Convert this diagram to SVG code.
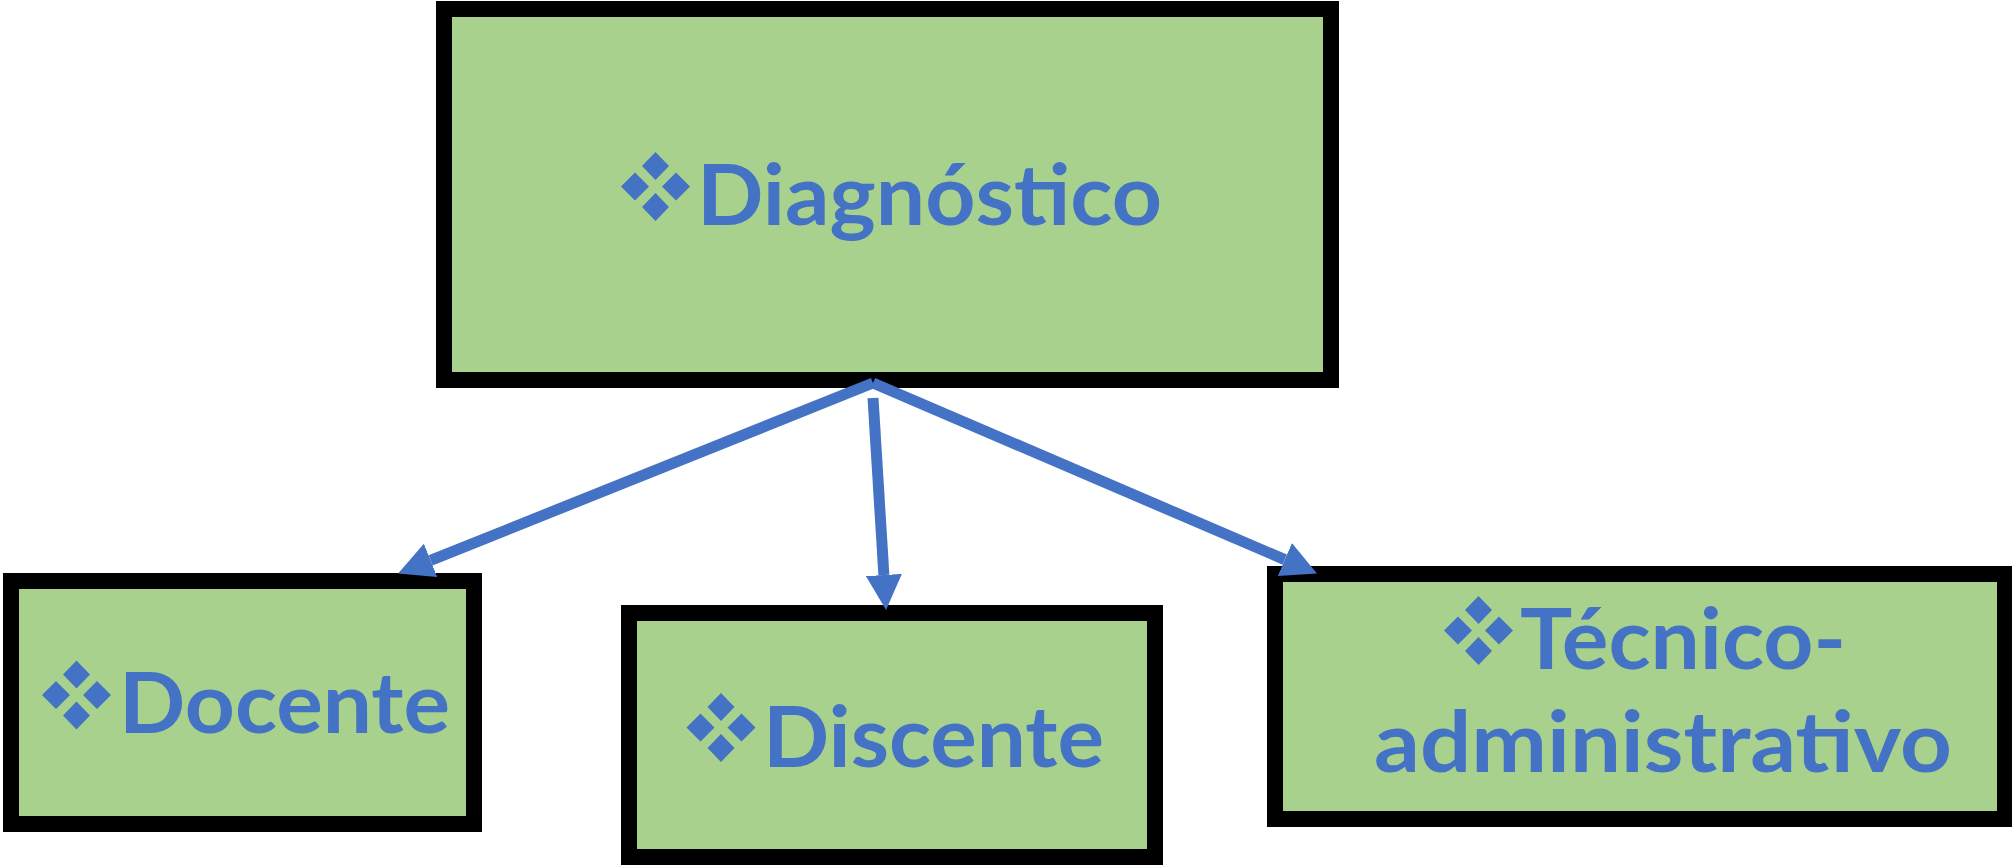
<svg xmlns="http://www.w3.org/2000/svg" xmlns:xlink="http://www.w3.org/1999/xlink" width="2012" height="865" viewBox="0 0 2012 865">
<style>
.box{fill:#A9D18E;stroke:#000;stroke-width:16}
.lbl{font-family:Lato,"Open Sans","Liberation Sans",sans-serif;font-weight:700;font-size:85px;fill:#4472C4}
.con{stroke:#4472C4;stroke-width:11;fill:none}
.bul{fill:#4472C4}
</style>
<defs>
<path id="bullet" class="bul" d="M0,-34.5 L13.5,-20.5 L0,-6.5 L-13.5,-20.5 Z M0,34.5 L13.5,20.5 L0,6.5 L-13.5,20.5 Z M-34.5,0 L-20.5,-14 L-6.5,0 L-20.5,14 Z M34.5,0 L20.5,-14 L6.5,0 L20.5,14 Z"/>
<marker id="arr" markerUnits="userSpaceOnUse" viewBox="0 0 35 36" markerWidth="35" markerHeight="36" refX="0" refY="18" orient="auto">
<path d="M0,0 L35,18 L0,36 Z" fill="#4472C4"/>
</marker>
</defs>
<g id="node-diagnostico">
<rect class="box" x="444" y="9" width="887" height="371"/>
<use xlink:href="#bullet" x="655.5" y="186.5"/>
<text class="lbl" x="697" y="225" textLength="465" lengthAdjust="spacingAndGlyphs">Diagnóstico</text>
</g>
<g id="node-docente">
<rect class="box" x="11" y="581" width="463" height="243"/>
<use xlink:href="#bullet" x="76.5" y="695"/>
<text class="lbl" x="119" y="733" textLength="331" lengthAdjust="spacingAndGlyphs">Docente</text>
</g>
<g id="node-discente">
<rect class="box" x="629" y="613" width="526" height="244"/>
<use xlink:href="#bullet" x="721" y="727.5"/>
<text class="lbl" x="763" y="767" textLength="341" lengthAdjust="spacingAndGlyphs">Discente</text>
</g>
<g id="node-tecnico">
<rect class="box" x="1275" y="574" width="730" height="245"/>
<use xlink:href="#bullet" x="1478.5" y="630.5"/>
<text class="lbl" x="1520" y="669" textLength="326" lengthAdjust="spacingAndGlyphs">Técnico-</text>
<text class="lbl" x="1374" y="772" textLength="578" lengthAdjust="spacingAndGlyphs">administrativo</text>
</g>
<g id="connectors">
<line class="con" x1="873" y1="383" x2="430.6" y2="560.4" marker-end="url(#arr)"/>
<line class="con" x1="873" y1="398" x2="883.9" y2="575" marker-end="url(#arr)"/>
<line class="con" x1="873" y1="383" x2="1284.8" y2="559.6" marker-end="url(#arr)"/>
</g>
</svg>
